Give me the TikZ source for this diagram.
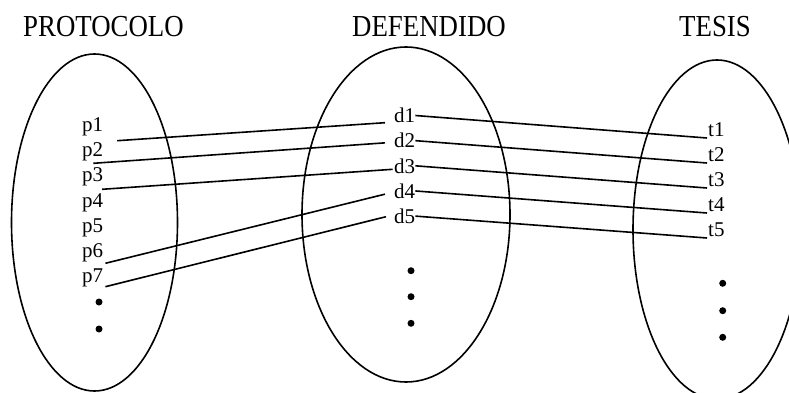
\documentclass[tikz,border=0pt]{standalone}
\usepackage{graphicx}
\usepackage{fontspec}
\setmainfont{Liberation Serif}
\newcommand{\settitle}[1]{\scalebox{0.88}[1]{#1}}
\begin{document}
\begin{tikzpicture}[x=1pt,y=-1pt,
  setline/.style={line width=1.6},
  settitle/.style={font=\fontsize{30.5}{36}\selectfont, inner sep=0, anchor=base west},
  elem/.style={font=\fontsize{21}{25}\selectfont, inner sep=0, anchor=base west}]
\useasboundingbox (0,0) rectangle (789,393);

%Shape: sets
\draw [setline] (94.5,222.5) ellipse [x radius=83, y radius=168.5];
\draw [setline] (406,214.5) ellipse [x radius=104, y radius=167.5];
\draw [setline] (717,229.5) ellipse [x radius=84, y radius=169.5];

% Text Node: titles
\node [settitle] (protocolo) at (23,36.7) {\settitle{PROTOCOLO}};
\node [settitle] (defendido) at (352,36.7) {\settitle{DEFENDIDO}};
\node [settitle] (tesis) at (679,36.7) {\settitle{TESIS}};

% Text Node: elements
\foreach \i in {1,...,7} \node [elem] (p\i) at (82,{131.5+25.2*(\i-1)}) {p\i};
\foreach \i in {1,...,5} \node [elem] (d\i) at (394,{122.7+25.15*(\i-1)}) {d\i};
\foreach \i in {1,...,5} \node [elem] (t\i) at (708,{136+25*(\i-1)}) {t\i};

% dots
\foreach \y in {302,329} \fill (99,\y) circle [radius=3.5];
\foreach \y in {270.7,296.7,323.3} \fill (411,\y) circle [radius=3.5];
\foreach \y in {283.3,310.7,337.3} \fill (722.7,\y) circle [radius=3.5];

%Straight Lines: protocolo - defendido
\draw [setline] ([shift={(13.7,9.2)}]p1.base east) -- ([shift={(-9,0)}]d1.base west);
\draw [setline] ([shift={(11.3,6.6)}]p2.base west) -- ([shift={(-9,-5)}]d2.base west);
\draw [setline] ([shift={(-1.3,7.4)}]p3.base east) -- ([shift={(-1.3,-3.7)}]d3.base west);
\draw [setline] ([shift={(2,5.8)}]p6.base east) -- ([shift={(-9,-4)}]d4.base west);
\draw [setline] ([shift={(2,4)}]p7.base east) -- ([shift={(-8,-6.6)}]d5.base west);

%Straight Lines: defendido - tesis
\foreach \i in {1,...,5}
  \draw [setline] (d\i.east) -- ([shift={(-1,2)}]t\i.base west);

\end{tikzpicture}
\end{document}
